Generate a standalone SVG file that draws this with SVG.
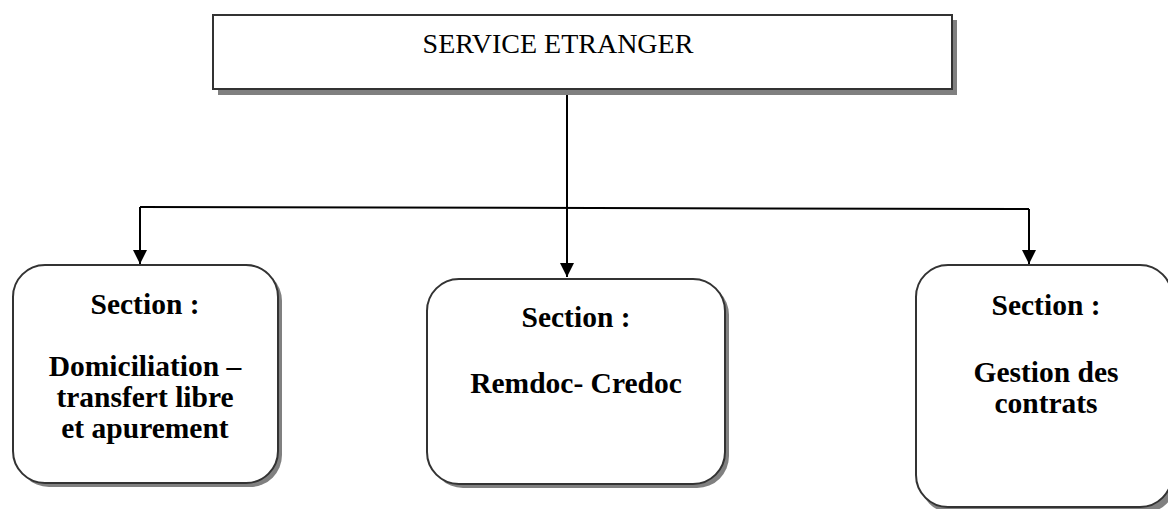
<svg xmlns="http://www.w3.org/2000/svg" width="1168" height="509" viewBox="0 0 1168 509">
<style>
.box{fill:#fff;stroke:#333;stroke-width:2}
.sh{fill:#808080}
.t{font-family:"Liberation Serif","Times New Roman",serif;fill:#000;text-anchor:middle}
.b{font-weight:bold;font-size:29.5px}
.con{stroke:#000;stroke-width:2;fill:none}
</style>
<defs>
<marker id="ah" viewBox="0 0 10 10" refX="10" refY="5" markerWidth="7" markerHeight="7" markerUnits="strokeWidth" orient="auto">
<path d="M0,0 L10,5 L0,10 Z" fill="#000"/>
</marker>
</defs>
<g id="service">
<rect class="sh" x="218" y="20" width="739" height="75"/>
<rect class="box" x="213" y="15" width="739" height="74"/>
<text class="t" x="558" y="53" font-size="28">SERVICE ETRANGER</text>
</g>
<g id="domiciliation">
<rect class="sh" x="17" y="269" width="265" height="218" rx="32"/>
<rect class="box" x="13" y="265" width="265" height="218" rx="32"/>
<text class="t b" x="145" y="314">Section :</text>
<text class="t b" x="145" y="376">Domiciliation –</text>
<text class="t b" x="145" y="407">transfert libre</text>
<text class="t b" x="145" y="438">et apurement</text>
</g>
<g id="remdoc">
<rect class="sh" x="431" y="283" width="298" height="205" rx="32"/>
<rect class="box" x="427" y="279" width="298" height="205" rx="32"/>
<text class="t b" x="576" y="327">Section :</text>
<text class="t b" x="576" y="393">Remdoc- Credoc</text>
</g>
<g id="contrats">
<rect class="sh" x="920" y="269" width="256" height="244" rx="32"/>
<rect class="box" x="916" y="265" width="256" height="242" rx="32"/>
<text class="t b" x="1046" y="315">Section :</text>
<text class="t b" x="1046" y="382">Gestion des</text>
<text class="t b" x="1046" y="413">contrats</text>
</g>
<g id="connectors">
<path class="con" d="M567,95 L567,277" marker-end="url(#ah)"/>
<path class="con" d="M140,207 L1029,209"/>
<path class="con" d="M140,207 L140,264" marker-end="url(#ah)"/>
<path class="con" d="M1029,209 L1029,264" marker-end="url(#ah)"/>
</g>
</svg>
